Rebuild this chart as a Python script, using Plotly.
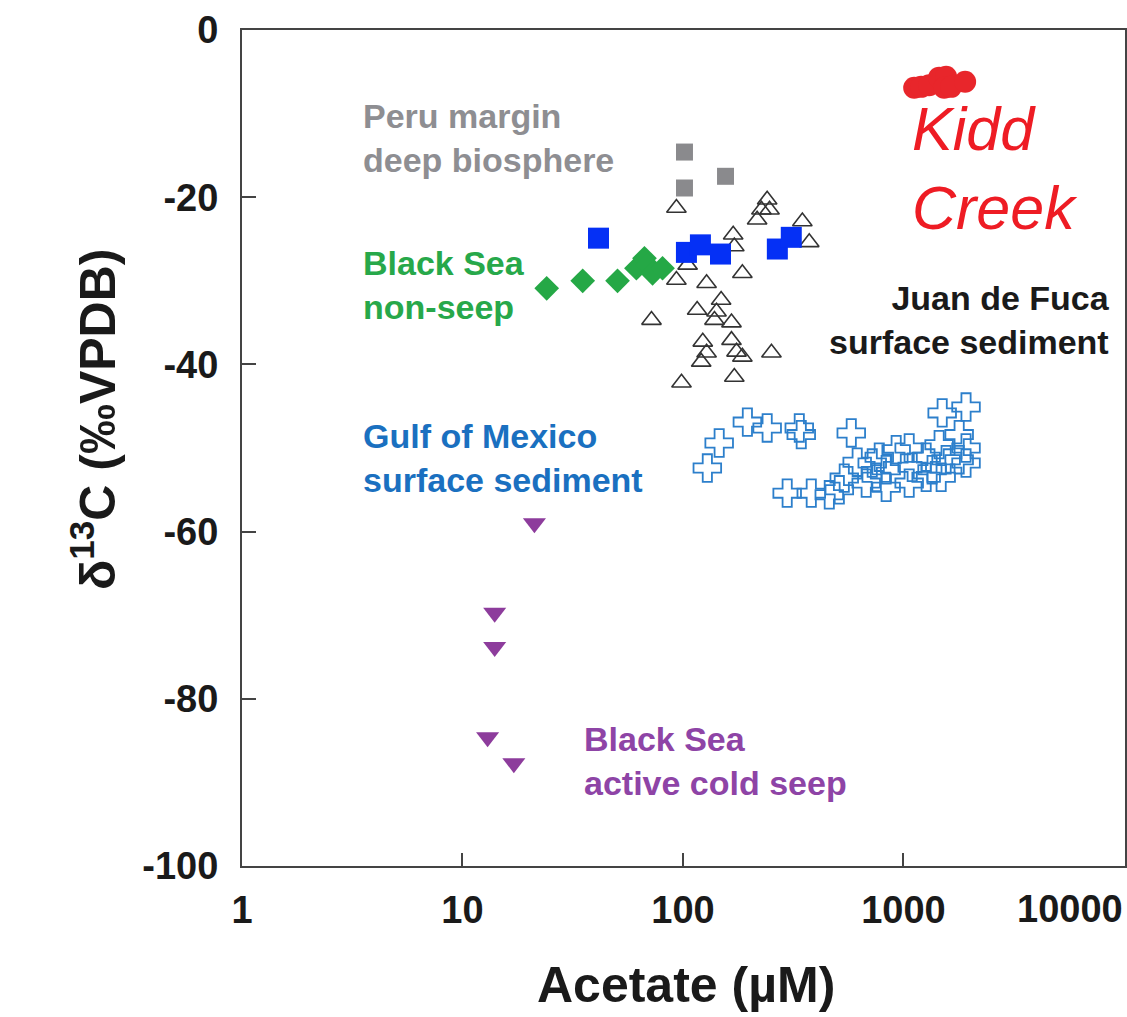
import plotly.graph_objects as go

# ---------------- data ----------------
kidd_x = [1119, 1203, 1308, 1452, 1562, 1530, 1645, 1905]
kidd_y = [-6.9, -6.8, -6.6, -5.7, -5.6, -6.9, -6.8, -6.2]

peru_x = [101.6, 101.6, 156]
peru_y = [-14.6, -18.9, -17.5]

bs_nonseep_x = [24.1, 35.1, 50.5, 61.5, 66.9, 69, 72.8, 80.8]
bs_nonseep_y = [-30.9, -30.0, -30.0, -28.5, -27.3, -28.1, -29.1, -28.5]

blue_sq_x = [41.4, 103.7, 120, 148, 268, 310]
blue_sq_y = [-24.9, -26.6, -25.7, -26.8, -26.2, -24.8]

jdf_x = [93.4, 241, 227, 247, 217, 348, 374, 169, 171, 105, 93.4, 128, 186, 72,
         149, 116, 142, 139, 166, 123, 166, 128, 121, 175, 186, 252, 171, 98.5]
jdf_y = [-21.3, -20.3, -21.5, -21.5, -22.7, -22.9, -25.4, -24.5, -25.9, -28.1,
         -29.9, -30.3, -29.1, -34.7, -32.3, -33.5, -33.7, -34.7, -35.0, -37.3,
         -37.1, -38.6, -39.7, -38.5, -39.1, -38.6, -41.5, -42.2]

gom_x = [129, 146, 196, 241, 337, 344, 580, 297, 382, 461, 539, 617, 777, 753,
         835, 1062, 1062, 1096, 1268, 1349, 1452, 1499, 1923, 1790, 1790, 1483,
         1923, 1923, 1562, 927, 722, 1268, 678, 835, 512]
gom_y = [-52.4, -49.4, -46.9, -47.6, -47.6, -48.4, -48.2, -55.4, -55.4, -55.6,
         -53.6, -51.7, -51.1, -53.5, -52.6, -54.2, -50.0, -52.3, -51.1, -52.6,
         -49.6, -45.8, -45.1, -48.4, -51.4, -53.5, -50.0, -51.8, -51.4, -50.2,
         -51.8, -53.5, -54.2, -54.7, -55.0]

seep_x = [21.2, 14.0, 14.0, 13.0, 17.1]
seep_y = [-59.0, -69.7, -73.8, -84.6, -87.7]

x_tickvals = [1, 10, 100, 1000]
x_ticktext = ["1", "10", "100", "1000"]
x_last_label = "10000"   # drawn right-aligned at the plot edge so it is not clipped
y_tickvals = [0, -20, -40, -60, -80, -100]
y_ticktext = ["0", "-20", "-40", "-60", "-80", "-100"]

# ---------------- figure ----------------
W, H = 1127, 1017
ML, MR, MT, MB = 242, 2, 30, 151
PW, PH = W - ML - MR, H - MT - MB


def px_x(px):
    return (px - ML) / PW


def px_y(py):
    return (H - MB - py) / PH


fig = go.Figure()

fig.add_trace(go.Scatter(x=gom_x, y=gom_y, mode="markers",
                         marker=dict(symbol="cross-open", size=23, color="#2c7fcb",
                                     line=dict(width=1.8, color="#2c7fcb"))))
fig.add_trace(go.Scatter(x=bs_nonseep_x, y=bs_nonseep_y, mode="markers",
                         marker=dict(symbol="diamond", size=19, color="#25a846",
                                     line=dict(width=0))))
fig.add_trace(go.Scatter(x=jdf_x, y=jdf_y, mode="markers",
                         marker=dict(symbol="triangle-up-open", size=17, color="#333333",
                                     line=dict(width=1.6, color="#333333"))))
fig.add_trace(go.Scatter(x=blue_sq_x, y=blue_sq_y, mode="markers",
                         marker=dict(symbol="square", size=21, color="#0530f5",
                                     line=dict(width=0))))
fig.add_trace(go.Scatter(x=peru_x, y=peru_y, mode="markers",
                         marker=dict(symbol="square", size=17, color="#8a8a8d",
                                     line=dict(width=0))))
fig.add_trace(go.Scatter(x=seep_x, y=seep_y, mode="markers",
                         marker=dict(symbol="triangle-down", size=20, color="#8d3c9c",
                                     line=dict(width=0))))
fig.add_trace(go.Scatter(x=kidd_x, y=kidd_y, mode="markers",
                         marker=dict(symbol="circle", size=22, color="#e8262b",
                                     line=dict(width=0))))

axis_family = "Liberation Sans, Arial, sans-serif"
tick_font = dict(family=axis_family, size=38, color="#1a1a1a", weight="bold")

fig.update_xaxes(type="log", range=[0, 4.005], tickvals=x_tickvals, ticktext=x_ticktext,
                 ticks="inside", ticklen=13, tickwidth=2, tickcolor="#444444",
                 showline=True, linecolor="#444444", linewidth=2, mirror=True,
                 showgrid=False, zeroline=False, tickfont=tick_font,
                 ticklabelstandoff=9, automargin=False)
fig.update_yaxes(range=[-100, 0], tickvals=y_tickvals, ticktext=y_ticktext,
                 ticks="inside", ticklen=14, tickwidth=2, tickcolor="#444444",
                 showline=True, linecolor="#444444", linewidth=2, mirror=True,
                 showgrid=False, zeroline=False, tickfont=tick_font,
                 ticklabelstandoff=14, automargin=False)

# last x tick label, kept fully inside the page
fig.add_annotation(text=x_last_label, xref="paper", yref="paper", x=1.0, y=px_y(909),
                   xanchor="right", yanchor="middle", showarrow=False, font=tick_font)

lab_font = "Liberation Sans, Arial, sans-serif"


def label(text, x, y, color, size=34, xanchor="left", align="left", style="normal",
          weight="bold"):
    fig.add_annotation(text=text, xref="paper", yref="paper", x=px_x(x), y=px_y(y),
                       xanchor=xanchor, yanchor="middle", align=align, showarrow=False,
                       font=dict(family=lab_font, size=size, color=color, weight=weight,
                                 style=style))


label("Peru margin<br>deep biosphere", 361, 138, "#8e8e92")
label("Black Sea<br>non-seep", 361, 285, "#27a84a")
label("Gulf of Mexico<br>surface sediment", 361, 458, "#1a70c0")
label("Juan de Fuca<br>surface sediment", 1112, 320, "#1a1a1a", xanchor="right", align="right")
label("Black Sea<br>active cold seep", 582, 761, "#8e44a6")
label("Kidd<br>Creek", 910, 168, "#ee1c24", size=61, style="italic", weight="normal")

# axis titles
fig.add_annotation(text="Acetate (µM)", xref="paper", yref="paper",
                   x=px_x(686), y=px_y(985), xanchor="center", yanchor="middle",
                   showarrow=False,
                   font=dict(family=axis_family, size=50, color="#1a1a1a", weight="bold"))
fig.add_annotation(text="δ<sup>13</sup>C (‰VPDB)", xref="paper", yref="paper",
                   x=px_x(94), y=px_y(420), xanchor="center", yanchor="middle",
                   textangle=-90, showarrow=False,
                   font=dict(family=axis_family, size=50, color="#1a1a1a", weight="bold"))

fig.update_layout(width=W, height=H, margin=dict(l=ML, r=MR, t=MT, b=MB, autoexpand=False),
                  plot_bgcolor="white", paper_bgcolor="white", showlegend=False)

fig.write_html("out.html")
